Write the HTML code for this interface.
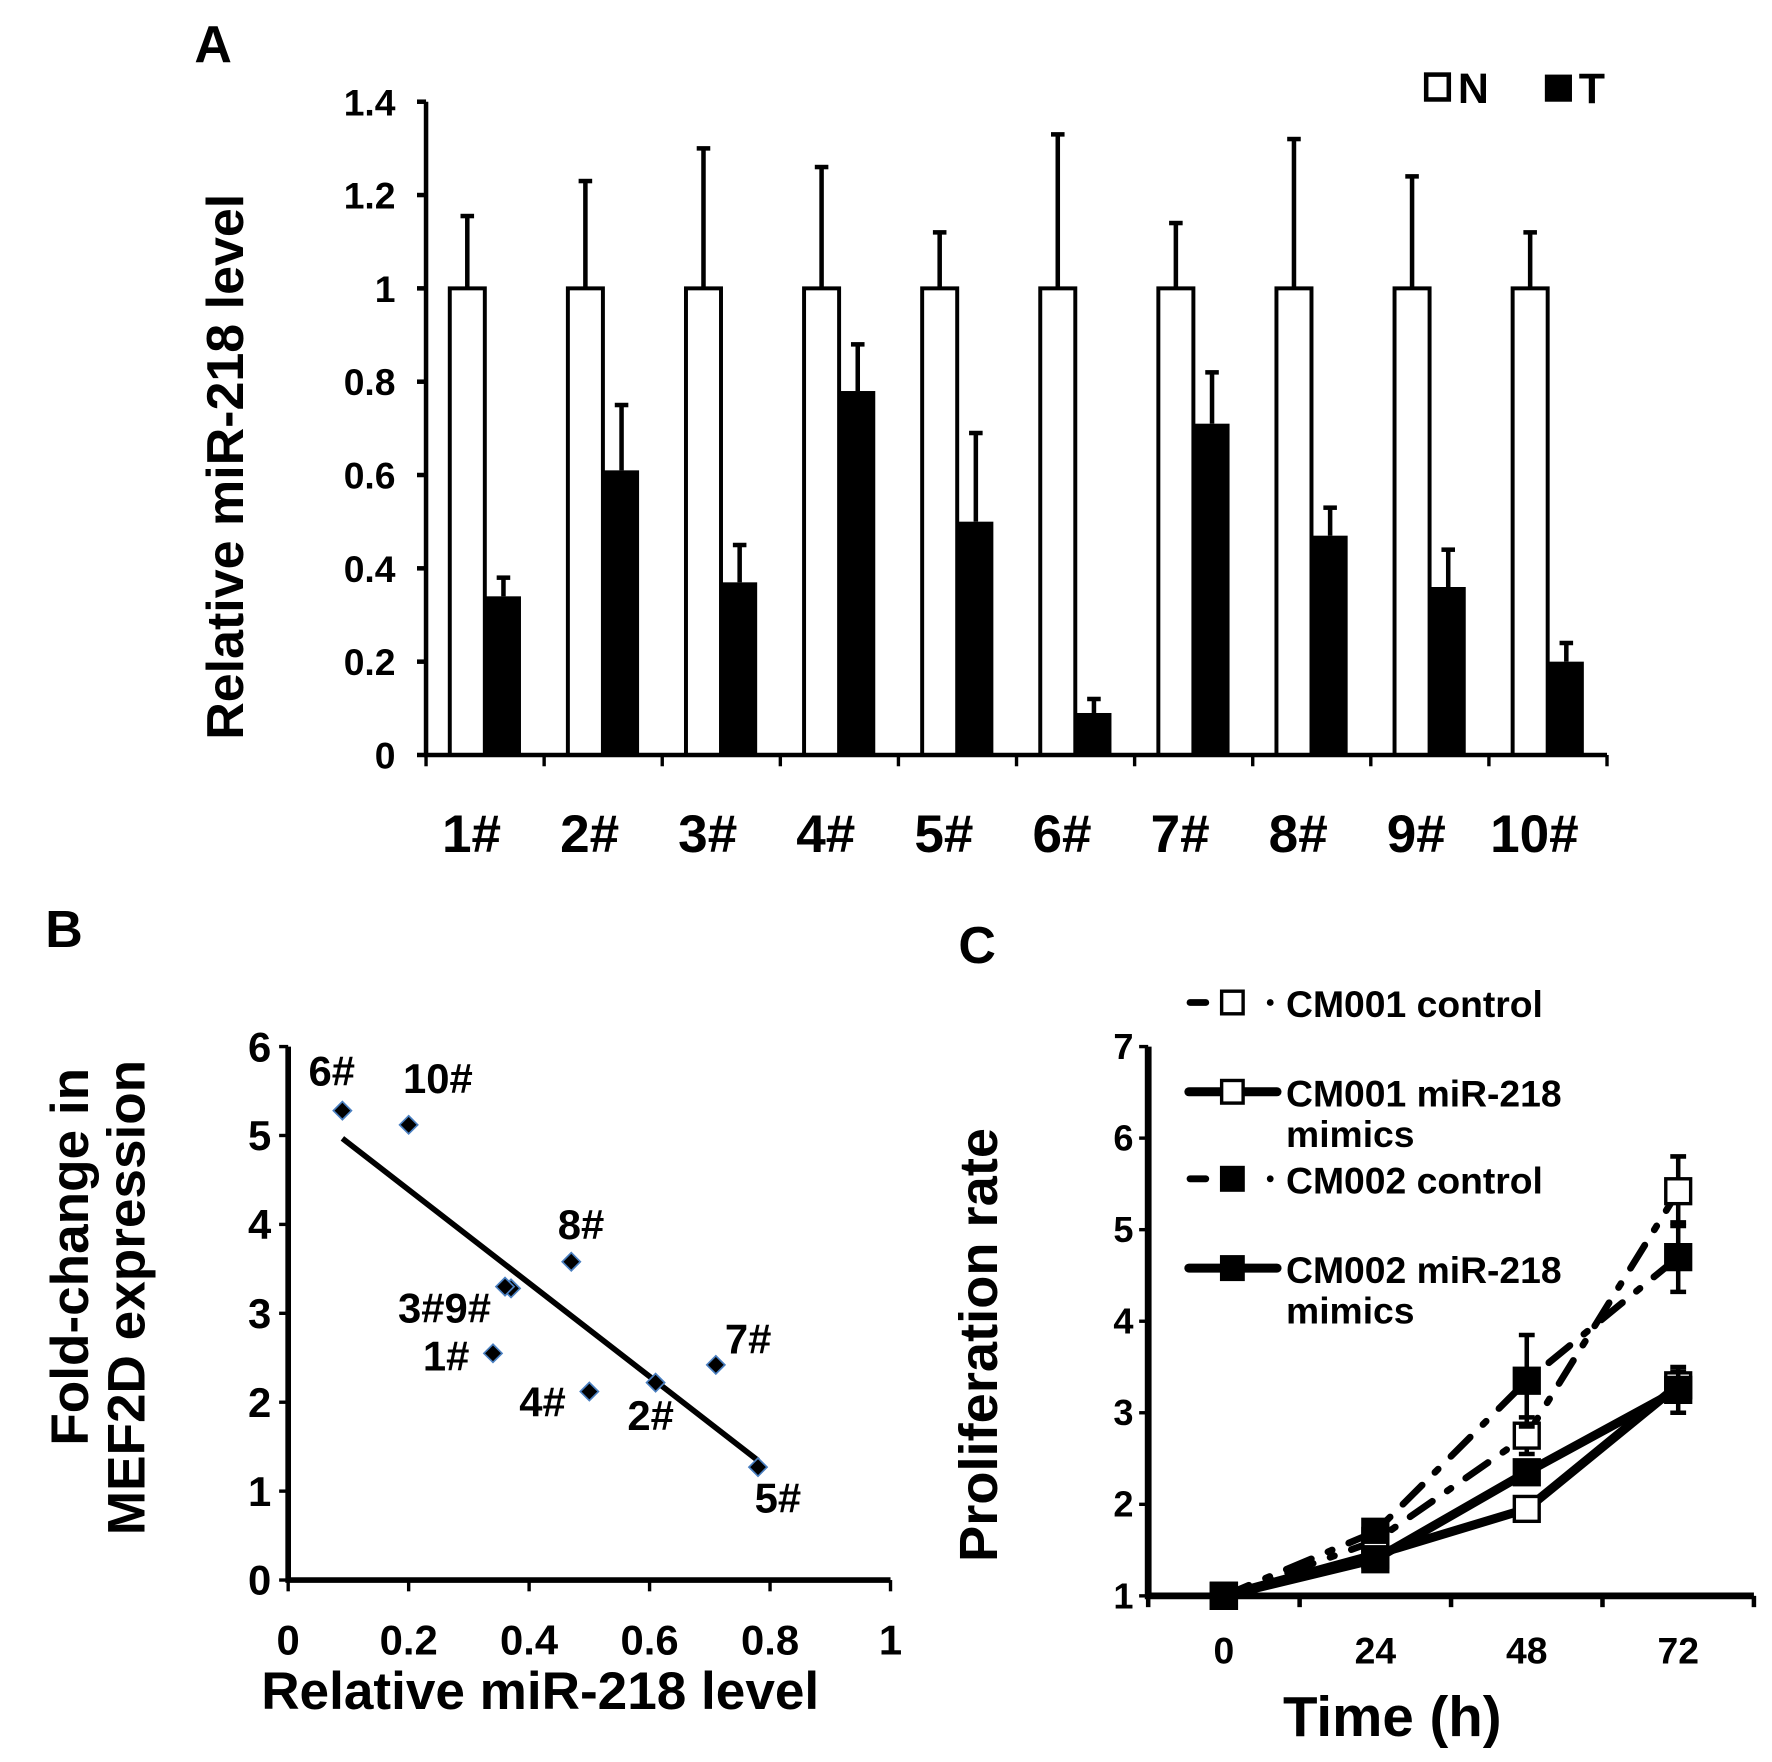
<!DOCTYPE html>
<html><head><meta charset="utf-8"><style>
html,body{margin:0;padding:0;background:#fff}
svg{display:block}
text{font-family:"Liberation Sans",Arial,sans-serif;font-weight:bold;fill:#000}
</style></head><body>
<svg id="fig" width="1772" height="1762" viewBox="0 0 1568 1559" preserveAspectRatio="none" xmlns="http://www.w3.org/2000/svg">
<g id="pa"></g>
<g id="pb"></g>
<g id="pc"></g>
</svg>
<script>
// Panel A data
const aCats = ["1#","2#","3#","4#","5#","6#","7#","8#","9#","10#"];
const aN = [1,1,1,1,1,1,1,1,1,1];
const aNErr = [0.155,0.23,0.30,0.26,0.12,0.33,0.14,0.32,0.24,0.12];
const aT = [0.34,0.61,0.37,0.78,0.50,0.09,0.71,0.47,0.36,0.20];
const aTErr = [0.04,0.14,0.08,0.10,0.19,0.03,0.11,0.06,0.08,0.04];
const aTicks = ["0","0.2","0.4","0.6","0.8","1","1.2","1.4"];
// Panel B data
const bLabels = ["6#","10#","8#","3#","9#","1#","4#","2#","7#","5#"];
const bX = [0.09,0.20,0.47,0.37,0.36,0.34,0.50,0.61,0.71,0.78];
const bY = [5.28,5.12,3.58,3.28,3.30,2.55,2.12,2.22,2.42,1.27];
const bXTicks = ["0","0.2","0.4","0.6","0.8","1"];
const bYTicks = ["0","1","2","3","4","5","6"];
// Panel C data
const cTimes = ["0","24","48","72"];
const c1ctl = [1.0,1.6,2.75,5.42];
const c1ctlErr = [0.05,0.1,0.2,0.38];
const c1mim = [1.0,1.45,1.95,3.3];
const c1mimErr = [0.05,0.08,0.1,0.15];
const c2ctl = [1.0,1.7,3.35,4.7];
const c2ctlErr = [0.05,0.12,0.5,0.38];
const c2mim = [1.0,1.4,2.35,3.25];
const c2mimErr = [0.05,0.1,0.12,0.25];
const cYTicks = ["1","2","3","4","5","6","7"];

const NS="http://www.w3.org/2000/svg";
function mk(parent,tag,attrs,txt){const e=document.createElementNS(NS,tag);for(const k in attrs)e.setAttribute(k,attrs[k]);if(txt!==undefined)e.textContent=txt;parent.appendChild(e);return e;}

// ---------- Panel A ----------
const pa=document.getElementById('pa');
const aX0=377,aX1=1422,aY0=668,aYtop=90,aGW=(aX1-aX0)/10;
const ay=v=>aY0-(v/1.4)*(aY0-aYtop);
let t=mk(pa,'text',{x:172,y:55,'font-size':46},'A');


aN.forEach((v,i)=>{
  const gx=aX0+i*aGW;
  const nx=gx+21, tx=gx+53, bw=31;
  let e=mk(pa,'line',{x1:nx+bw/2,x2:nx+bw/2,y1:ay(v),y2:ay(v+aNErr[i]),stroke:'#000','stroke-width':4});
  
  
  e=mk(pa,'line',{x1:nx+bw/2-6,x2:nx+bw/2+6,y1:ay(v+aNErr[i]),y2:ay(v+aNErr[i]),stroke:'#000','stroke-width':4});
  
  
  e=mk(pa,'rect',{x:nx,y:ay(v),width:bw,height:aY0-ay(v),fill:'#fff',stroke:'#000','stroke-width':3.5});
  
  
  const tv=aT[i];
  e=mk(pa,'line',{x1:tx+bw/2,x2:tx+bw/2,y1:ay(tv),y2:ay(tv+aTErr[i]),stroke:'#000','stroke-width':4});
  
  
  e=mk(pa,'line',{x1:tx+bw/2-6,x2:tx+bw/2+6,y1:ay(tv+aTErr[i]),y2:ay(tv+aTErr[i]),stroke:'#000','stroke-width':4});
  
  
  e=mk(pa,'rect',{x:tx,y:ay(tv),width:bw,height:aY0-ay(tv),fill:'#000'});
  
  
  e=mk(pa,'text',{x:gx+aGW/2-12,y:754,'font-size':47,'text-anchor':'middle'},aCats[i]);
  
  
});
for(let k=0;k<=10;k++){let e=mk(pa,'line',{x1:aX0+k*aGW,x2:aX0+k*aGW,y1:aY0,y2:aY0+10,stroke:'#000','stroke-width':3});
  
  }
aTicks.forEach((s,i)=>{const v=i*0.2;
  let e=mk(pa,'line',{x1:aX0-8,x2:aX0,y1:ay(v),y2:ay(v),stroke:'#000','stroke-width':4});
  
  
  e=mk(pa,'text',{x:350,y:ay(v)+12,'font-size':33,'text-anchor':'end'},s);
  
  });
let ax=mk(pa,'path',{d:`M${aX0},${aYtop} V${aY0} H${aX1}`,fill:'none',stroke:'#000','stroke-width':4});


t=mk(pa,'text',{x:0,y:0,'font-size':46,'text-anchor':'middle',transform:'translate(215,413) rotate(-90)'},'Relative miR-218 level');


let lg=mk(pa,'rect',{x:1262,y:66,width:20,height:22,fill:'#fff',stroke:'#000','stroke-width':4});


t=mk(pa,'text',{x:1290,y:91,'font-size':38},'N');


lg=mk(pa,'rect',{x:1367,y:66,width:24,height:24,fill:'#000'});


t=mk(pa,'text',{x:1397,y:91,'font-size':38},'T');



// ---------- Panel B ----------
const pb=document.getElementById('pb');
const bX0=255,bX1=788,bY0=1398,bYtop=926;
const bx=v=>bX0+v*(bX1-bX0);
const by=v=>bY0-(v/6)*(bY0-bYtop);
t=mk(pb,'text',{x:40,y:838,'font-size':46},'B');


(function(){const n=bX.length;let sx=0,sy=0,sxx=0,sxy=0;for(let i=0;i<n;i++){sx+=bX[i];sy+=bY[i];sxx+=bX[i]*bX[i];sxy+=bX[i]*bY[i];}
const m=(n*sxy-sx*sy)/(n*sxx-sx*sx),b=(sy-m*sx)/n;const xa=Math.min(...bX),xb=Math.max(...bX);
let e=mk(pb,'line',{x1:bx(xa),y1:by(m*xa+b),x2:bx(xb),y2:by(m*xb+b),stroke:'#000','stroke-width':5});

})();
const bLabOff=[[-30,-22],[-5,-28],[-12,-20],[-100,30],[-85,28],[-62,15],[-62,22],[-25,42],[8,-10],[-3,40]];
bX.forEach((v,i)=>{const cx=bx(v),cy=by(bY[i]);
  let e=mk(pb,'polygon',{points:`${cx},${cy-8} ${cx+8},${cy} ${cx},${cy+8} ${cx-8},${cy}`,fill:'#000',stroke:'#4a7fc0','stroke-width':1.5});
  
  
  if(bLabels[i]==='9#') return;
  const lab=bLabels[i]==='3#'?'3#9#':bLabels[i];
  e=mk(pb,'text',{x:cx+bLabOff[i][0],y:cy+bLabOff[i][1],'font-size':37},lab);
  
  });
bXTicks.forEach((s,i)=>{const x=bx(i*0.2);
  let e=mk(pb,'line',{x1:x,x2:x,y1:bY0,y2:bY0+10,stroke:'#000','stroke-width':3});
  
  
  e=mk(pb,'text',{x:x,y:1464,'font-size':37,'text-anchor':'middle'},s);
  
  });
bYTicks.forEach((s,i)=>{const y=by(i);
  let e=mk(pb,'line',{x1:bX0-8,x2:bX0,y1:y,y2:y,stroke:'#000','stroke-width':3});
  
  
  e=mk(pb,'text',{x:240,y:y+13,'font-size':37,'text-anchor':'end'},s);
  
  });
ax=mk(pb,'path',{d:`M${bX0},${bYtop} V${bY0} H${bX1}`,fill:'none',stroke:'#000','stroke-width':5});


t=mk(pb,'text',{x:478,y:1512,'font-size':47,'text-anchor':'middle'},'Relative miR-218 level');


t=mk(pb,'text',{x:0,y:0,'font-size':47,'text-anchor':'middle',transform:'translate(78,1112) rotate(-90)'},'Fold-change in');


t=mk(pb,'text',{x:0,y:0,'font-size':47,'text-anchor':'middle',transform:'translate(128,1148) rotate(-90)'},'MEF2D expression');



// ---------- Panel C ----------
const pc=document.getElementById('pc');
const cX0=1016,cX1=1552,cY0=1412,cYtop=926,cGW=(cX1-cX0)/4;
const cx=i=>cX0+cGW*(i+0.5);
const cy=v=>cY0-((v-1)/6)*(cY0-cYtop);
t=mk(pc,'text',{x:848,y:852,'font-size':46},'C');


const series=[
 {name:'cm001-control',vals:c1ctl,err:c1ctlErr,fill:'#fff',dash:'24 16 4 16',w:6},
 {name:'cm002-control',vals:c2ctl,err:c2ctlErr,fill:'#000',dash:'24 16 4 16',w:6},
 {name:'cm001-mimics',vals:c1mim,err:c1mimErr,fill:'#fff',dash:'',w:8},
 {name:'cm002-mimics',vals:c2mim,err:c2mimErr,fill:'#000',dash:'',w:8}];
series.forEach(s=>{
  const pts=s.vals.map((v,i)=>`${cx(i)},${cy(v)}`).join(' ');
  let e=mk(pc,'polyline',{points:pts,fill:'none',stroke:'#000','stroke-width':s.w,'stroke-dasharray':s.dash,'stroke-linecap':'round'});
  
  
  s.vals.forEach((v,i)=>{
    e=mk(pc,'path',{d:`M${cx(i)},${cy(v+s.err[i])} V${cy(v-s.err[i])} M${cx(i)-7},${cy(v+s.err[i])} h14 M${cx(i)-7},${cy(v-s.err[i])} h14`,stroke:'#000','stroke-width':4,fill:'none'});
    
    
    e=mk(pc,'rect',{x:cx(i)-11,y:cy(v)-11,width:22,height:22,fill:s.fill,stroke:'#000','stroke-width':3});
    
    });
});
for(let k=0;k<=4;k++){let e=mk(pc,'line',{x1:cX0+k*cGW,x2:cX0+k*cGW,y1:cY0,y2:cY0+10,stroke:'#000','stroke-width':4});
  
  }
cTimes.forEach((s,i)=>{let e=mk(pc,'text',{x:cx(i),y:1472,'font-size':33,'text-anchor':'middle'},s);
  
  });
cYTicks.forEach((s,i)=>{const y=cy(i+1);
  let e=mk(pc,'line',{x1:cX0-8,x2:cX0,y1:y,y2:y,stroke:'#000','stroke-width':3});
  
  
  e=mk(pc,'text',{x:1003,y:y+11,'font-size':32,'text-anchor':'end'},s);
  
  });
ax=mk(pc,'path',{d:`M${cX0},${cYtop} V${cY0} H${cX1}`,fill:'none',stroke:'#000','stroke-width':6});


t=mk(pc,'text',{x:1232,y:1536,'font-size':50,'text-anchor':'middle'},'Time (h)');


t=mk(pc,'text',{x:0,y:0,'font-size':48,'text-anchor':'middle',transform:'translate(882,1190) rotate(-90)'},'Proliferation rate');


const legs=[
 {y:887,lines:['CM001 control'],fill:'#fff',dashed:true},
 {y:966,lines:['CM001 miR-218','mimics'],fill:'#fff',dashed:false},
 {y:1043,lines:['CM002 control'],fill:'#000',dashed:true},
 {y:1122,lines:['CM002 miR-218','mimics'],fill:'#000',dashed:false}];
legs.forEach((L,i)=>{
  let e;
  if(L.dashed){
    e=mk(pc,'path',{d:`M1053,${L.y} h14 M1124,${L.y} h0`,stroke:'#000','stroke-width':6,'stroke-linecap':'round'});
  } else {
    e=mk(pc,'line',{x1:1052,x2:1130,y1:L.y,y2:L.y,stroke:'#000','stroke-width':8,'stroke-linecap':'round'});
  }
  
  
  e=mk(pc,'rect',{x:1081,y:L.y-10,width:19,height:20,fill:L.fill,stroke:'#000','stroke-width':3});
  
  
  L.lines.forEach((s,j)=>{e=mk(pc,'text',{x:1138,y:L.y+13+j*36,'font-size':33},s);
    
    });
});
</script>
</body></html>
